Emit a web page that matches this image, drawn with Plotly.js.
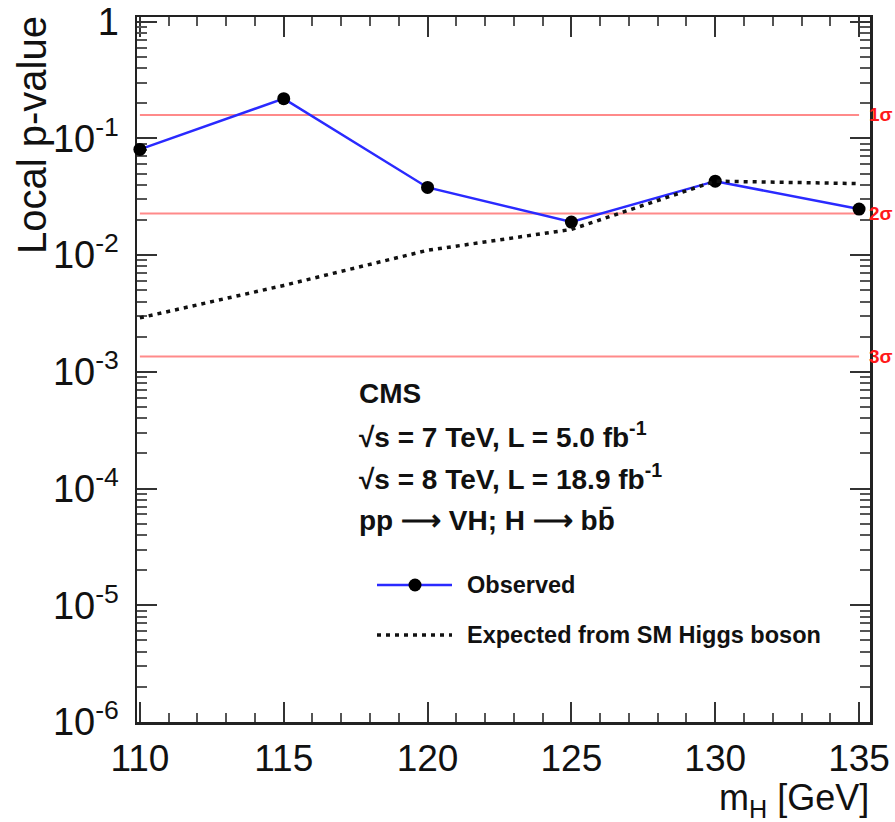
<!DOCTYPE html>
<html>
<head>
<meta charset="utf-8">
<script src="https://cdn.plot.ly/plotly-3.0.1.min.js"></script>
<style>html,body{margin:0;padding:0;background:#fff;}#chart{width:895px;height:822px;}</style>
</head>
<body>
<div id="chart"></div>
<script>
// ---- data ----
const massPoints = [110, 115, 120, 125, 130, 135];
const observedP  = [0.0805, 0.219, 0.038, 0.0192, 0.043, 0.0248];
const expectedP  = [0.0029, 0.0055, 0.011, 0.0166, 0.043, 0.041];
const sigmaLabels = ['1σ', '2σ', '3σ'];
const sigmaP      = [0.1587, 0.02275, 0.00135];
const sigmaRange  = [110, 135];
const yTickVals   = [1e-6, 1e-5, 1e-4, 1e-3, 1e-2, 1e-1, 1];
const yTickText   = ['10<sup>-6</sup>', '10<sup>-5</sup>', '10<sup>-4</sup>', '10<sup>-3</sup>', '10<sup>-2</sup>', '10<sup>-1</sup>', '1'];
const xTickVals   = [110, 115, 120, 125, 130, 135];
const infoLines = ['<b>CMS</b>', '<b>√s = 7 TeV, L = 5.0 fb<sup>-1</sup></b>', '<b>√s = 8 TeV, L = 18.9 fb<sup>-1</sup></b>', '<b>pp ⟶ VH; H ⟶ bb̄</b>'];
const legendNames = ['Observed', 'Expected from SM Higgs boson'];

// minor ticks (axis decoration)
const yMinor = [];
for (let e = -6; e < 0; e++) for (let m = 2; m <= 9; m++) yMinor.push(m * Math.pow(10, e));
const xMinor = [];
for (let v = 110; v <= 135; v++) if (v % 5 !== 0) xMinor.push(v);

const FONT = 'Liberation Sans, Arial, Helvetica, sans-serif';
const BLUE = '#2a2aff';
const RED_LINE = '#ff8a8a';
const RED_TXT = '#ff1a1a';
const DOT = '4px,5px';

const traces = [];
sigmaP.forEach(s => {
  traces.push({x: sigmaRange, y: [s, s], mode: 'lines', line: {color: RED_LINE, width: 2}, hoverinfo: 'skip', showlegend: false});
});
traces.push({x: massPoints, y: observedP, mode: 'lines+markers', name: legendNames[0], cliponaxis: false,
  line: {color: BLUE, width: 2.5}, marker: {color: '#000', size: 13}, showlegend: false});
traces.push({x: massPoints, y: expectedP, mode: 'lines', name: legendNames[1],
  line: {color: '#111', width: 3.5, dash: DOT}, showlegend: false});

const L = 137, R = 25, T = 17, B = 100;
const W = 895 - L - R, H = 822 - T - B;
const px = x => (x - L) / W;
const py = y => (822 - B - y) / H;

const annotations = [];
sigmaP.forEach((s, i) => {
  annotations.push({xref: 'paper', yref: 'y', x: 1, y: Math.log10(s), xanchor: 'left', yanchor: 'middle',
    xshift: -2, borderpad: 0, text: '<b>' + sigmaLabels[i] + '</b>', showarrow: false, font: {family: FONT, size: 19, color: RED_TXT}});
});
const infoY = [393, 435, 477, 520];
infoLines.forEach((t, i) => {
  annotations.push({xref: 'paper', yref: 'paper', x: px(357), y: py(infoY[i]), xanchor: 'left', yanchor: 'middle',
    text: t, showarrow: false, font: {family: FONT, size: 28, color: '#111'}});
});
const legY = [585, 635];
legendNames.forEach((t, i) => {
  annotations.push({xref: 'paper', yref: 'paper', x: px(465), y: py(legY[i]), xanchor: 'left', yanchor: 'middle',
    text: '<b>' + t + '</b>', showarrow: false, font: {family: FONT, size: 23.5, color: '#111'}});
});
annotations.push({xref: 'paper', yref: 'paper', x: px(32), y: py(135), xanchor: 'center', yanchor: 'middle',
  textangle: -90, text: 'Local p-value', showarrow: false, font: {family: FONT, size: 40, color: '#111'}});
annotations.push({xref: 'paper', yref: 'paper', x: 1, y: py(800), xanchor: 'right', yanchor: 'middle', borderpad: 0,
  text: 'm<sub>H</sub> [GeV]', showarrow: false, font: {family: FONT, size: 36, color: '#111'}});

const shapes = [
  {type: 'line', xref: 'paper', yref: 'paper', x0: px(377), x1: px(452), y0: py(585), y1: py(585), line: {color: BLUE, width: 2.5}},
  {type: 'circle', xref: 'paper', yref: 'paper', xsizemode: 'pixel', ysizemode: 'pixel', xanchor: px(415), yanchor: py(585),
    x0: -6.5, x1: 6.5, y0: -6.5, y1: 6.5, fillcolor: '#000', line: {color: '#000', width: 0}},
  {type: 'line', xref: 'paper', yref: 'paper', x0: px(377), x1: px(452), y0: py(635), y1: py(635), line: {color: '#111', width: 3.5, dash: DOT}}
];

const layout = {
  width: 895, height: 822,
  margin: {l: L, r: R, t: T, b: B, pad: 0},
  paper_bgcolor: '#fff', plot_bgcolor: '#fff',
  showlegend: false,
  font: {family: FONT, color: '#111'},
  xaxis: {
    range: [109.9, 135.38], tickmode: 'array', tickvals: xTickVals, layer: 'below traces',
    ticks: 'inside', ticklen: 20, tickwidth: 2, tickcolor: '#333',
    minor: {tickmode: 'array', tickvals: xMinor, ticks: 'inside', ticklen: 9, tickwidth: 2, tickcolor: '#555'},
    showline: true, linecolor: '#222', linewidth: 2.5, mirror: 'allticks',
    showgrid: false, zeroline: false,
    tickfont: {family: FONT, size: 37, color: '#111'}, ticklabelstandoff: 2
  },
  yaxis: {
    type: 'log', range: [-6, 0.04], tickmode: 'array', tickvals: yTickVals, ticktext: yTickText, layer: 'below traces',
    ticks: 'inside', ticklen: 20, tickwidth: 2, tickcolor: '#333',
    minor: {tickmode: 'array', tickvals: yMinor, ticks: 'inside', ticklen: 10, tickwidth: 2, tickcolor: '#555'},
    showline: true, linecolor: '#222', linewidth: 2.5, mirror: 'allticks',
    showgrid: false, zeroline: false,
    tickfont: {family: FONT, size: 38, color: '#111'}, ticklabelstandoff: 8
  },
  annotations: annotations,
  shapes: shapes
};

Plotly.newPlot('chart', traces, layout, {staticPlot: true, displayModeBar: false});
</script>
</body>
</html>
